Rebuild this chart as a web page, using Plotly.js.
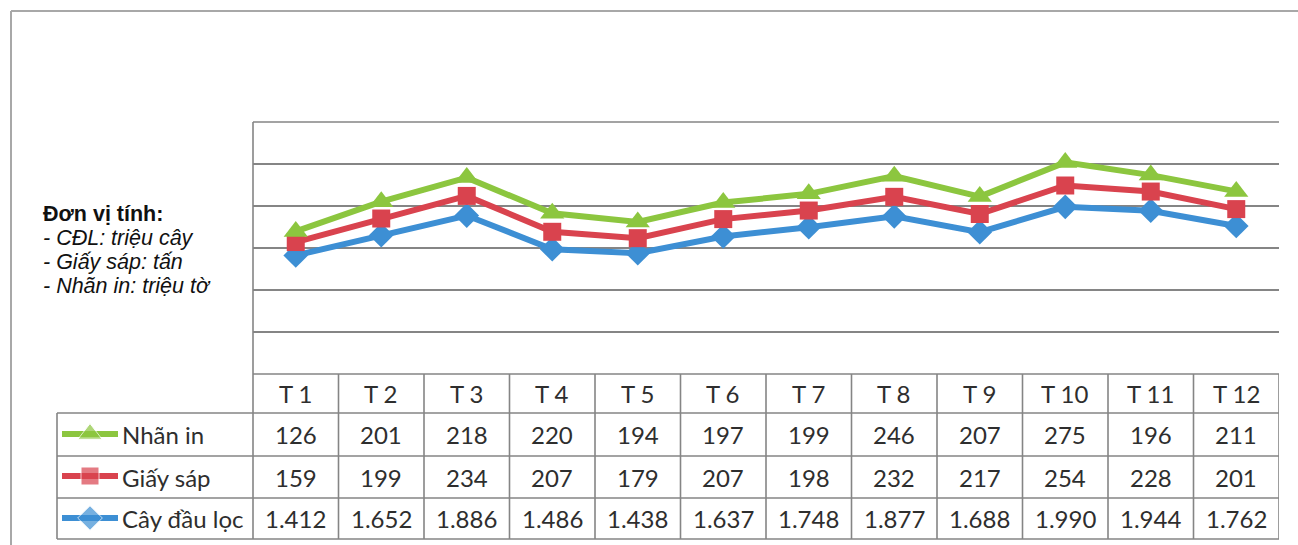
<!DOCTYPE html>
<html>
<head>
<meta charset="utf-8">
<script src="https://cdn.plot.ly/plotly-3.0.1.min.js"></script>
<style>html,body{margin:0;padding:0;background:#fff;}#chart{width:1298px;height:545px;}</style>
</head>
<body>
<div id="chart"></div>
<script>
// ---- data ----
const months = ["T 1","T 2","T 3","T 4","T 5","T 6","T 7","T 8","T 9","T 10","T 11","T 12"];
const nhanIn = [126,201,218,220,194,197,199,246,207,275,196,211];
const giaySap = [159,199,234,207,179,207,198,232,217,254,228,201];
const cayDauLoc = [1412,1652,1886,1486,1438,1637,1748,1877,1688,1990,1944,1762];
const seriesNames = ["Nhãn in","Giấy sáp","Cây đầu lọc"];
const unitLines = ["Đơn vị tính:","- CĐL: triệu cây","- Giấy sáp: tấn","- Nhãn in: triệu tờ"];

// ---- styles ----
const W = 1298, H = 545;
const px = x => x / W;
const py = y => (H - y) / H;
const colors = {"Nhãn in":"#8cc63f","Giấy sáp":"#d9434e","Cây đầu lọc":"#3d8fd4"};
const symbols = {"Nhãn in":"triangle-up","Giấy sáp":"square","Cây đầu lọc":"diamond"};
const msize = {"Nhãn in":21,"Giấy sáp":18,"Cây đầu lọc":19};
const gridCol = "#858585";
const tableFont = {family:"Lato, 'Open Sans', sans-serif", size:24, color:"#2e2e2e"};

const plotL = 253, plotR = 1279, plotT = 122, plotB = 374;
const rowEdges = [374, 413, 456, 498, 539];
const tableLeft = 57;
const unitY = [214, 238, 262, 286];

const valuesByName = {"Nhãn in":nhanIn,"Giấy sáp":giaySap,"Cây đầu lọc":cayDauLoc};
const fmt = v => v >= 1000 ? (v/1000).toFixed(3) : String(v);

const traces = [];
// stacked lines: bottom first
["Cây đầu lọc","Giấy sáp","Nhãn in"].forEach(name => {
  traces.push({
    type:"scatter", mode:"lines+markers", x: months, y: valuesByName[name],
    stackgroup:"one", fill:"none", name: name, showlegend:false,
    line:{color:colors[name], width:6},
    marker:{symbol:symbols[name], size:msize[name], color:colors[name]},
    hoverinfo:"x+y+name"
  });
});
// legend keys in the table's first column
const keyX = [0,1,2];
seriesNames.forEach(name => {
  traces.push({
    type:"scatter", mode:"lines+markers", xaxis:"x2", yaxis:"y2",
    x:keyX, y:keyX.map(()=>name), showlegend:false, hoverinfo:"skip",
    line:{color:colors[name], width:6},
    marker:{symbol:symbols[name], size:[0,msize[name],0], color:colors[name]}
  });
});

const shapes = [];
const line = (x0,y0,x1,y1,w,c) => shapes.push({type:"line",xref:"paper",yref:"paper",
  x0:px(x0),y0:py(y0),x1:px(x1),y1:py(y1),line:{color:c||gridCol,width:w||1.6}});
// outer frame
line(11,11,1298,11,2,"#a8a8a8");
line(11,11,11,545,2,"#a8a8a8");
// plot left border and top line
line(plotL,plotT,plotL,plotB,1.6);
line(plotL,plotT,plotR,plotT,1.6);
// table horizontal lines
line(plotL,rowEdges[0],plotR,rowEdges[0],1.6);
for (let i=1;i<rowEdges.length;i++) line(tableLeft,rowEdges[i],plotR,rowEdges[i],1.6);
// table vertical lines
line(tableLeft,rowEdges[1],tableLeft,rowEdges[4],1.6);
line(plotL,rowEdges[0],plotL,rowEdges[4],1.6);
for (let i=0;i<months.length;i++){
  shapes.push({type:"line",xref:"x",yref:"paper",x0:i+0.5,x1:i+0.5,
    y0:py(rowEdges[0]),y1:py(rowEdges[4]),line:{color:gridCol,width:1.6}});
}

const annotations = [];
const rowCenter = r => (rowEdges[r]+rowEdges[r+1])/2;
months.forEach((m,i)=>{
  annotations.push({xref:"x",yref:"paper",x:i,y:py(rowCenter(0)),yanchor:"middle",text:m,showarrow:false,font:tableFont});
});
seriesNames.forEach((name,r)=>{
  const vals = valuesByName[name];
  vals.forEach((v,i)=>{
    annotations.push({xref:"x",yref:"paper",x:i,y:py(rowCenter(r+1)),yanchor:"middle",text:fmt(v),showarrow:false,font:tableFont});
  });
  annotations.push({xref:"paper",yref:"paper",x:px(120),y:py(rowCenter(r+1)),xanchor:"left",yanchor:"middle",
    text:name,showarrow:false,font:tableFont});
});
unitLines.forEach((t,i)=>{
  annotations.push({xref:"paper",yref:"paper",x:px(41),y:py(unitY[i]),xanchor:"left",yanchor:"middle",
    showarrow:false, text: i===0 ? "<b>"+t+"</b>" : "<i>"+t+"</i>",
    font:{family:"'Liberation Sans', Arial, sans-serif",size:i===0?21.5:21.5,color:"#111"}});
});

const layout = {
  width:W, height:H, margin:{l:0,r:0,t:0,b:0},
  paper_bgcolor:"#fff", plot_bgcolor:"#fff", showlegend:false,
  xaxis:{domain:[px(plotL),px(plotR)], range:[-0.5,11.5], type:"category",
    showticklabels:false, showgrid:false, zeroline:false, showline:false, ticks:""},
  yaxis:{domain:[py(plotB),py(plotT)], range:[0,3000], dtick:500, tick0:0,
    showticklabels:false, showgrid:true, gridcolor:gridCol, gridwidth:1.6, zeroline:false, showline:false, ticks:""},
  xaxis2:{domain:[px(62),px(118)], range:[0,2], visible:false, anchor:"y2"},
  yaxis2:{domain:[py(rowEdges[4]),py(rowEdges[1])], type:"category",
    categoryarray:["Cây đầu lọc","Giấy sáp","Nhãn in"], categoryorder:"array",
    range:[-0.5,2.5], visible:false, anchor:"x2"},
  shapes:shapes, annotations:annotations
};
Plotly.newPlot("chart", traces, layout, {displayModeBar:false, staticPlot:true});
</script>
</body>
</html>
